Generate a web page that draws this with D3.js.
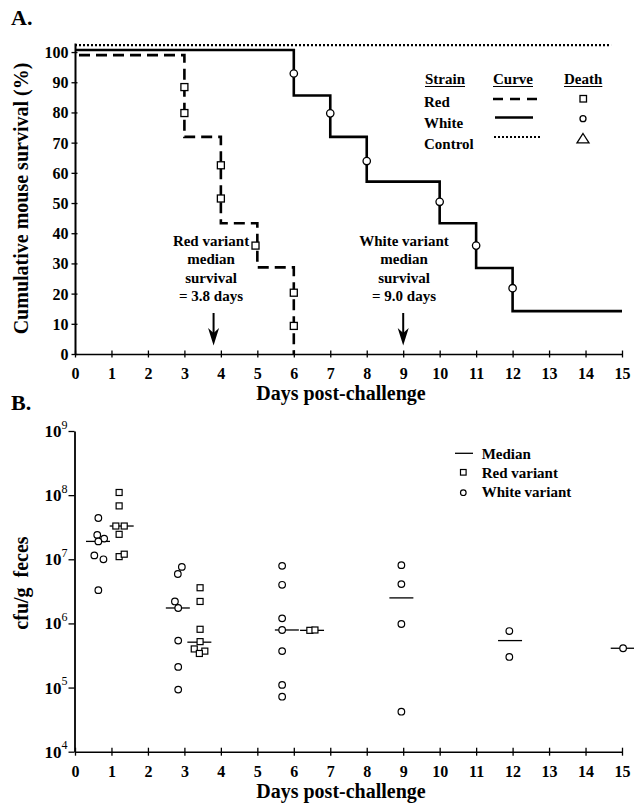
<!DOCTYPE html>
<html lang="en">
<head>
<meta charset="UTF-8">
<title>Survival and fecal shedding</title>
<script src="https://d3js.org/d3.v7.min.js"></script>
<style>
  body { margin: 0; background: #fff; }
  svg { display: block; }
  text { font-family: "Liberation Serif", "Times New Roman", serif; font-weight: bold; fill: #000; }
</style>
</head>
<body>
<svg id="chart" width="634" height="809"></svg>
<script>
// ---- data: panel A (Kaplan-Meier curves, % survival)
var dayTicks = d3.range(0, 16);
var survTicks = d3.range(0, 101, 10);

var redDays = [0, 3, 4, 5, 6];
var redSurv = [99, 71.9, 43.3, 28.7, 0];
var whiteDays = [0, 6, 7, 8, 10, 11, 12, 15];
var whiteSurv = [100.7, 85.6, 71.9, 57.1, 43.3, 28.5, 14.2, 14.2];
var controlDays = [0, 14.7];
var controlSurv = [102.3, 102.3];

// death markers
var redDeathDays = [3, 3, 4, 4, 4.95, 6, 6];
var redDeathSurv = [88.4, 79.8, 62.5, 51.5, 35.9, 20.3, 9.3];
var whiteDeathDays = [6, 7, 8, 10, 11, 12];
var whiteDeathSurv = [92.9, 79.7, 63.9, 50.4, 35.9, 21.8];

var medianRed = 3.8;
var medianWhite = 9.0;
var redNote = ['Red variant', 'median', 'survival', '= 3.8 days'];
var whiteNote = ['White variant', 'median', 'survival', '= 9.0 days'];

// ---- data: panel B (cfu/g feces)
var cfuTicks = [1e4, 1e5, 1e6, 1e7, 1e8, 1e9];
var cfuExp = ['4', '5', '6', '7', '8', '9'];

var whiteX = [0.64, 0.61, 0.80, 0.64, 0.53, 0.78, 0.64,
              2.93, 2.82, 2.74, 2.83, 2.83, 2.83, 2.83,
              5.68, 5.68, 5.68, 5.68, 5.68, 5.68, 5.68,
              8.95, 8.95, 8.95, 8.95,
              11.91, 11.91,
              15.03];
var whiteCfu = [4.4e7, 2.4e7, 2.1e7, 1.9e7, 1.15e7, 1.0e7, 3.3e6,
                7.6e6, 5.9e6, 2.2e6, 1.74e6, 5.4e5, 2.1e5, 9.3e4,
                7.9e6, 4.0e6, 1.2e6, 7.9e5, 3.7e5, 1.1e5, 7.2e4,
                8.1e6, 4.1e6, 9.8e5, 4.2e4,
                7.6e5, 3.0e5,
                4.1e5];
var redX = [1.21, 1.21, 1.12, 1.35, 1.21, 1.21, 1.35,
            3.43, 3.43, 3.43, 3.43, 3.27, 3.56, 3.41,
            6.44, 6.58];
var redCfu = [1.1e8, 6.8e7, 3.3e7, 3.3e7, 2.45e7, 1.1e7, 1.2e7,
              3.6e6, 2.2e6, 8.1e5, 5.2e5, 4.0e5, 3.7e5, 3.4e5,
              7.8e5, 7.9e5];
var medianX = [0.63, 1.28, 2.82, 3.41, 5.81, 6.5, 8.95, 11.93, 15.02];
var medianCfu = [1.9e7, 3.3e7, 1.74e6, 5.1e5, 7.9e5, 7.8e5, 2.5e6, 5.4e5, 4.1e5];

function zip(a, b) { return a.map(function(v, i) { return [v, b[i]]; }); }

var svg = d3.select('#chart');
svg.append('rect').attr('width', 634).attr('height', 809).attr('fill', '#fff');

var x = d3.scaleLinear().domain([0, 15]).range([75, 622]);

// =============== Panel A ===============
var yA = d3.scaleLinear().domain([0, 103]).range([354, 43]);
var gA = svg.append('g');

svg.append('text').attr('x', 11).attr('y', 25).attr('font-size', 22).text('A.');

var axA = gA.append('g').attr('transform', `translate(0,${yA(0)})`)
  .call(d3.axisBottom(x).tickValues(dayTicks).tickSize(0).tickSizeOuter(0));
axA.select('.domain').attr('stroke', '#000').attr('stroke-width', 1.6);
axA.selectAll('.tick line').attr('y1', -3.5).attr('y2', 3.5).attr('stroke', '#000').attr('stroke-width', 1.3);
axA.selectAll('.tick text').attr('y', 25).attr('dy', null).attr('font-size', 16)
  .attr('font-family', null).attr('fill', '#000');

var ayA = gA.append('g').attr('transform', `translate(${x(0)},0)`)
  .call(d3.axisLeft(yA).tickValues(survTicks).tickSize(0).tickSizeOuter(0));
ayA.select('.domain').attr('stroke', '#000').attr('stroke-width', 2);
ayA.selectAll('.tick line').attr('x1', -3.5).attr('x2', 2.5).attr('stroke', '#000').attr('stroke-width', 1.3);
ayA.selectAll('.tick text').attr('x', -6.5).attr('dy', '0.34em').attr('font-size', 16)
  .attr('font-family', null).attr('fill', '#000');

gA.append('text').attr('transform', `translate(28,${(yA(0) + yA(103)) / 2}) rotate(-90)`)
  .attr('text-anchor', 'middle').attr('font-size', 20).text('Cumulative mouse survival (%)');
gA.append('text').attr('x', 341).attr('y', 400).attr('text-anchor', 'middle')
  .attr('font-size', 20).text('Days post-challenge');

var step = d3.line().x(function(d) { return x(d[0]); }).y(function(d) { return yA(d[1]); })
  .curve(d3.curveStepAfter);

gA.append('path').datum(zip(controlDays, controlSurv)).attr('d', step)
  .attr('fill', 'none').attr('stroke', '#000').attr('stroke-width', 2.2).attr('stroke-dasharray', '2,2');
gA.append('path').datum(zip(whiteDays, whiteSurv)).attr('d', step)
  .attr('fill', 'none').attr('stroke', '#000').attr('stroke-width', 2.6);
gA.append('path').datum(zip(redDays, redSurv)).attr('d', step)
  .attr('fill', 'none').attr('stroke', '#000').attr('stroke-width', 2.6)
  .attr('stroke-dasharray', '11,6').attr('stroke-dashoffset', -4);

gA.selectAll('rect.rd').data(zip(redDeathDays, redDeathSurv)).join('rect').attr('class', 'rd')
  .attr('x', function(d) { return x(d[0]) - 3.5; }).attr('y', function(d) { return yA(d[1]) - 3.5; })
  .attr('width', 7).attr('height', 7).attr('fill', '#fff').attr('stroke', '#000').attr('stroke-width', 1.3);
gA.selectAll('circle.wd').data(zip(whiteDeathDays, whiteDeathSurv)).join('circle').attr('class', 'wd')
  .attr('cx', function(d) { return x(d[0]); }).attr('cy', function(d) { return yA(d[1]); })
  .attr('r', 3.7).attr('fill', '#fff').attr('stroke', '#000').attr('stroke-width', 1.3);

// median annotations
function note(lines, day, cx) {
  var g = gA.append('g');
  g.selectAll('text').data(lines).join('text')
    .attr('x', cx).attr('y', function(d, i) { return 246 + i * 18.3; })
    .attr('text-anchor', 'middle').attr('font-size', 15).text(function(d) { return d; });
  var ax = x(day);
  g.append('line').attr('x1', ax).attr('x2', ax).attr('y1', 313).attr('y2', 334)
    .attr('stroke', '#000').attr('stroke-width', 2);
  g.append('path').attr('d', `M${ax - 5.5},328 L${ax},345.5 L${ax + 5.5},328 L${ax},333 Z`).attr('fill', '#000');
}
note(redNote, medianRed, 211);
note(whiteNote, medianWhite, 404);

// legend A
var lg = gA.append('g');
[['Strain', 425], ['Curve', 493], ['Death', 564]].forEach(function(h) {
  var t = lg.append('text').attr('x', h[1]).attr('y', 84).attr('font-size', 15).text(h[0]);
  var w = t.node().getComputedTextLength();
  lg.append('line').attr('x1', h[1]).attr('x2', h[1] + w).attr('y1', 86.5).attr('y2', 86.5)
    .attr('stroke', '#000').attr('stroke-width', 1);
});
var rows = ['Red', 'White', 'Control'];
var rowY = [107, 128.3, 149];
var curveY = [99, 117.5, 137];
lg.selectAll('text.row').data(rows).join('text').attr('class', 'row')
  .attr('x', 424).attr('y', function(d, i) { return rowY[i]; }).attr('font-size', 15).text(function(d) { return d; });
lg.append('line').attr('x1', 493).attr('x2', 538).attr('y1', curveY[0]).attr('y2', curveY[0])
  .attr('stroke', '#000').attr('stroke-width', 2.6).attr('stroke-dasharray', '10,7');
lg.append('line').attr('x1', 495).attr('x2', 533).attr('y1', curveY[1]).attr('y2', curveY[1])
  .attr('stroke', '#000').attr('stroke-width', 2.6);
lg.append('line').attr('x1', 494).attr('x2', 541).attr('y1', curveY[2]).attr('y2', curveY[2])
  .attr('stroke', '#000').attr('stroke-width', 2.2).attr('stroke-dasharray', '2,2');
lg.append('rect').attr('x', 580).attr('y', 95.5).attr('width', 6.5).attr('height', 6.5)
  .attr('fill', '#fff').attr('stroke', '#000').attr('stroke-width', 1.3);
lg.append('circle').attr('cx', 583).attr('cy', 118.7).attr('r', 3).attr('fill', '#fff')
  .attr('stroke', '#000').attr('stroke-width', 1.3);
lg.append('path').attr('d', 'M583,133.5 L589,142.8 L577,142.8 Z').attr('fill', '#fff')
  .attr('stroke', '#000').attr('stroke-width', 1.3);

// =============== Panel B ===============
var yB = d3.scaleLog().domain([1e4, 1e9]).range([751.7, 431]);
var gB = svg.append('g');

svg.append('text').attr('x', 11).attr('y', 410).attr('font-size', 22).text('B.');

var axB = gB.append('g').attr('transform', `translate(0,${yB(1e4)})`)
  .call(d3.axisBottom(x).tickValues(dayTicks).tickSize(0).tickSizeOuter(0));
axB.select('.domain').attr('stroke', '#000').attr('stroke-width', 1.6);
axB.selectAll('.tick line').attr('y1', -4).attr('y2', 4).attr('stroke', '#000').attr('stroke-width', 1.3);
axB.selectAll('.tick text').attr('y', 25).attr('dy', null).attr('font-size', 16)
  .attr('font-family', null).attr('fill', '#000');

var ayB = gB.append('g').attr('transform', `translate(${x(0) - 0.5},0)`)
  .call(d3.axisLeft(yB).tickValues(cfuTicks).tickFormat('').tickSize(6).tickSizeOuter(0));
ayB.select('.domain').attr('stroke', '#000').attr('stroke-width', 1.8);
ayB.selectAll('.tick line').attr('stroke', '#000').attr('stroke-width', 1.3);
ayB.selectAll('.tick text').remove();
ayB.selectAll('.tick').append('text').attr('x', -7).attr('y', 5.5).attr('text-anchor', 'end')
  .each(function(d, i) {
    var t = d3.select(this);
    t.append('tspan').attr('font-size', 17).text('10');
    t.append('tspan').attr('font-size', 12).attr('font-weight', 'normal').attr('dy', -8.5).text(cfuExp[i]);
  });

gB.append('text').attr('transform', `translate(28,583) rotate(-90)`)
  .attr('text-anchor', 'middle').attr('font-size', 20).attr('xml:space', 'preserve').text('cfu/g  feces');
gB.append('text').attr('x', 341).attr('y', 798).attr('text-anchor', 'middle')
  .attr('font-size', 20).text('Days post-challenge');

gB.selectAll('line.med').data(zip(medianX, medianCfu)).join('line').attr('class', 'med')
  .attr('x1', function(d) { return x(d[0]) - 12; }).attr('x2', function(d) { return x(d[0]) + 12; })
  .attr('y1', function(d) { return yB(d[1]); }).attr('y2', function(d) { return yB(d[1]); })
  .attr('stroke', '#000').attr('stroke-width', 1.3);
gB.selectAll('circle.wp').data(zip(whiteX, whiteCfu)).join('circle').attr('class', 'wp')
  .attr('cx', function(d) { return x(d[0]); }).attr('cy', function(d) { return yB(d[1]); })
  .attr('r', 3.3).attr('fill', '#fff').attr('stroke', '#000').attr('stroke-width', 1.2);
gB.selectAll('rect.rp').data(zip(redX, redCfu)).join('rect').attr('class', 'rp')
  .attr('x', function(d) { return x(d[0]) - 3; }).attr('y', function(d) { return yB(d[1]) - 3; })
  .attr('width', 6).attr('height', 6).attr('fill', '#fff').attr('stroke', '#000').attr('stroke-width', 1.2);

// legend B
var lb = gB.append('g');
lb.append('line').attr('x1', 455).attr('x2', 473).attr('y1', 453.3).attr('y2', 453.3)
  .attr('stroke', '#000').attr('stroke-width', 1.3);
lb.append('rect').attr('x', 460.5).attr('y', 469.5).attr('width', 5.6).attr('height', 5.6)
  .attr('fill', '#fff').attr('stroke', '#000').attr('stroke-width', 1.2);
lb.append('circle').attr('cx', 463.3).attr('cy', 492.7).attr('r', 2.8)
  .attr('fill', '#fff').attr('stroke', '#000').attr('stroke-width', 1.2);
var lbText = ['Median', 'Red variant', 'White variant'];
var lbY = [459, 478.3, 497];
lb.selectAll('text').data(lbText).join('text').attr('x', 481.7)
  .attr('y', function(d, i) { return lbY[i]; }).attr('font-size', 15).text(function(d) { return d; });
</script>
</body>
</html>
